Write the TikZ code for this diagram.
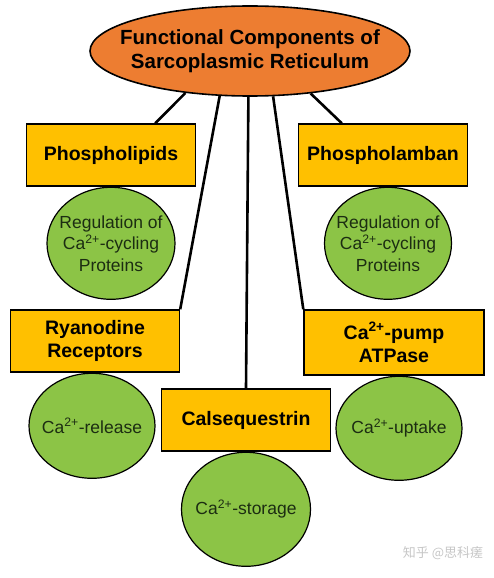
\documentclass[tikz,border=0pt]{standalone}
\usepackage{fontspec}
\setmainfont{Liberation Sans}
\newfontfamily\cjk{Noto Sans CJK SC}
\usetikzlibrary{positioning, shapes.geometric, calc}

\definecolor{srorange}{RGB}{237,125,49}
\definecolor{srgold}{RGB}{255,192,0}
\definecolor{srgreen}{RGB}{140,196,70}
\definecolor{srtext}{RGB}{28,45,18}

\begin{document}
\begin{tikzpicture}[x=1pt, y=-1pt,
    head/.style={ellipse, draw, line width=1.6pt, fill=srorange, align=center,
                 minimum width=320pt, minimum height=90pt, inner sep=-60pt,
                 font=\fontsize{20.5}{24}\selectfont\bfseries},
    part/.style={draw, line width=1.4pt, fill=srgold, align=center,
                 minimum width=169pt, minimum height=62pt, inner sep=0pt,
                 font=\fontsize{19.5}{23}\selectfont\bfseries},
    role/.style={ellipse, draw, line width=1.2pt, fill=srgreen, align=center,
                 minimum width=128pt, minimum height=112pt, inner sep=-40pt,
                 text=srtext, font=\fontsize{17.5}{21.5}\selectfont},
    link/.style={line width=2.6pt}]
  \useasboundingbox (0,0) rectangle (494,578);
  % --- kopfknoten ---
  \node[head] (sr) at (250,51) {Functional Components of\\Sarcoplasmic Reticulum};
  % --- obere reihe ---
  \node[part] (lipid)  at (111,155) {Phospholipids};
  \node[part] (lamban) at (383,155) {Phospholamban};
  \node[role, below=0pt of lipid] (lipidrole) {Regulation of\\Ca\textsuperscript{2+}-cycling\\Proteins};
  \node[role, below=0pt of lamban, xshift=5pt, minimum width=127pt] (lambanrole) {Regulation of\\Ca\textsuperscript{2+}-cycling\\Proteins};
  % --- untere reihe ---
  \node[part] (ryr)  at (95,341) {Ryanodine\\Receptors};
  \node[part] (csq)  at (246,420) {Calsequestrin};
  \node[part, minimum width=180pt, minimum height=65pt] (pump) at (394,342.5) {Ca\textsuperscript{2+}-pump\\ATPase};
  \node[role, below=0pt of ryr, xshift=-3pt, minimum width=126pt, minimum height=105pt] (ryrrole) {Ca\textsuperscript{2+}-release};
  \node[role, below=0pt of csq, minimum width=129pt, minimum height=114pt] (csqrole) {Ca\textsuperscript{2+}-storage};
  \node[role, below=0pt of pump, xshift=5pt, minimum width=126pt, minimum height=104pt] (pumprole) {Ca\textsuperscript{2+}-uptake};

  \draw[link] (sr.-147) -- ([xshift=-41pt]lipid.north east);
  \draw[link] (sr.-124) -- (ryr.north east);
  \draw[link] (sr.-92)  -- (csq.north);
  \draw[link] (sr.-63)  -- (pump.north west);
  \draw[link] (sr.-35)  -- ([xshift=44pt]lamban.north west);

  \node[text=gray!45, font=\cjk\fontsize{13}{15}\selectfont] (mark) at (443,553) {知乎 @思科瘥};
\end{tikzpicture}
\end{document}
